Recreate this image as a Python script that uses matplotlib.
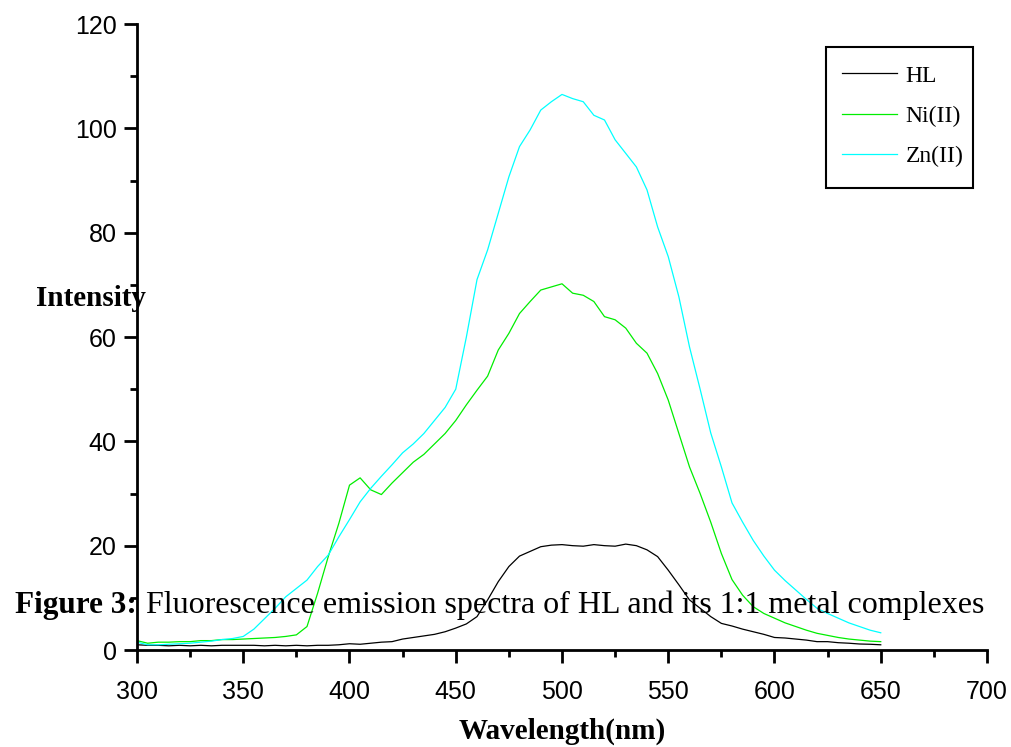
import numpy as np
import matplotlib
matplotlib.use("Agg")
import matplotlib.pyplot as plt
from matplotlib.ticker import MultipleLocator
from matplotlib.patches import Rectangle

wavelength = list(range(300, 655, 5))

hl = [1.0, 0.9, 0.9, 0.8, 0.9, 0.8, 0.9, 0.8, 0.9, 0.9,
      0.9, 0.9, 0.8, 0.9, 0.8, 0.9, 0.8, 0.9, 0.9, 1.0,
      1.2, 1.1, 1.3, 1.5, 1.6, 2.1, 2.4, 2.7, 3.0, 3.5,
      4.2, 5.0, 6.4, 9.6, 13.1, 16.0, 18.0, 18.9, 19.8, 20.1,
      20.2, 20.0, 19.9, 20.2, 20.0, 19.9, 20.3, 20.0, 19.2, 17.9,
      15.3, 12.5, 9.6, 8.0, 6.4, 5.1, 4.6, 4.0, 3.5, 3.0,
      2.4, 2.3, 2.1, 1.9, 1.6, 1.6, 1.4, 1.3, 1.15, 1.1,
      1.0]

ni = [1.8, 1.3, 1.5, 1.5, 1.6, 1.6, 1.8, 1.8, 2.0, 2.0,
      2.1, 2.2, 2.3, 2.4, 2.6, 2.9, 4.5, 10.9, 17.9, 24.3,
      31.6, 33.0, 30.7, 29.8, 32.0, 34.0, 36.0, 37.5, 39.5, 41.5,
      44.0, 47.0, 49.8, 52.5, 57.5, 60.7, 64.5, 66.8, 69.0, 69.6,
      70.2, 68.4, 68.0, 66.8, 63.9, 63.3, 61.7, 58.8, 56.9, 53.0,
      47.9, 41.5, 35.1, 30.0, 24.5, 18.5, 13.5, 10.5, 8.3, 7.0,
      6.1, 5.2, 4.5, 3.8, 3.2, 2.8, 2.4, 2.1, 1.9, 1.7,
      1.6]

zn = [1.5, 1.0, 1.0, 1.1, 1.2, 1.3, 1.5, 1.7, 2.0, 2.2,
      2.6, 4.0, 6.0, 8.0, 10.2, 11.8, 13.4, 16.0, 18.2, 21.7,
      25.0, 28.4, 31.0, 33.3, 35.5, 37.8, 39.5, 41.5, 44.0, 46.5,
      50.0, 60.0, 71.0, 76.7, 83.7, 90.7, 96.5, 99.7, 103.5, 105.1,
      106.5, 105.7, 105.1, 102.5, 101.6, 97.8, 95.2, 92.6, 88.2, 81.1,
      75.4, 67.7, 58.1, 50.0, 41.6, 35.1, 28.2, 24.5, 21.0, 18.0,
      15.3, 13.3, 11.5, 9.7, 8.0, 7.0, 6.1, 5.2, 4.5, 3.8,
      3.3]

series_names = ["HL", "Ni(II)", "Zn(II)"]
series_colors = ["#000000", "#00ee00", "#00ffff"]

W, H = 1012, 747
fig = plt.figure(figsize=(W / 100, H / 100), dpi=100)
ax = fig.add_axes([137 / W, 1 - 650 / H, 850 / W, 626 / H])

for y, name, c in zip([hl, ni, zn], series_names, series_colors):
    ax.plot(wavelength, y, color=c, lw=0.9, label=name)

ax.set_xlim(300, 700)
ax.set_ylim(0, 120)
ax.xaxis.set_major_locator(MultipleLocator(50))
ax.xaxis.set_minor_locator(MultipleLocator(25))
ax.yaxis.set_major_locator(MultipleLocator(20))
ax.yaxis.set_minor_locator(MultipleLocator(10))

for s in ["top", "right"]:
    ax.spines[s].set_visible(False)
for s in ["left", "bottom"]:
    ax.spines[s].set_linewidth(2.0)

ax.tick_params(which="major", direction="out", length=9.5, width=2.0,
               labelsize=18)
ax.tick_params(axis="x", which="major", pad=12)
ax.tick_params(axis="y", which="major", pad=5)
ax.tick_params(which="minor", direction="out", length=5, width=2.0)
for lab in ax.get_xticklabels() + ax.get_yticklabels():
    lab.set_family("Liberation Sans")

ax.set_xlabel("Wavelength(nm)", family="Liberation Serif", fontweight="bold",
              fontsize=21, labelpad=10)
fig.text(36 / W, 1 - 298 / H, "Intensity", family="Liberation Serif",
         fontweight="bold", fontsize=21, ha="left", va="center")

# legend box (drawn as a figure rectangle) and legend entries
fig.patches.append(Rectangle((826 / W, 1 - 188 / H), 147 / W, 141 / H,
                             transform=fig.transFigure, fill=False,
                             edgecolor="black", linewidth=1.5, zorder=5))
leg = fig.legend(loc="upper left", bbox_to_anchor=(842 / W, 1 - 65 / H),
                 bbox_transform=fig.transFigure,
                 prop={"family": "Liberation Serif", "size": 17},
                 frameon=False, handlelength=2.35, handletextpad=0.35,
                 labelspacing=0.8, borderpad=0.0, borderaxespad=0.0)

fig.text(137 / W, 1 - 605 / H, "Figure 3:", family="Liberation Serif",
         fontweight="bold", fontsize=22.5, ha="right", va="center")
fig.text(146 / W, 1 - 605 / H,
         "Fluorescence emission spectra of HL and its 1:1 metal complexes",
         family="Liberation Serif", fontsize=23, ha="left", va="center")

fig.savefig("out.png", dpi=100)
